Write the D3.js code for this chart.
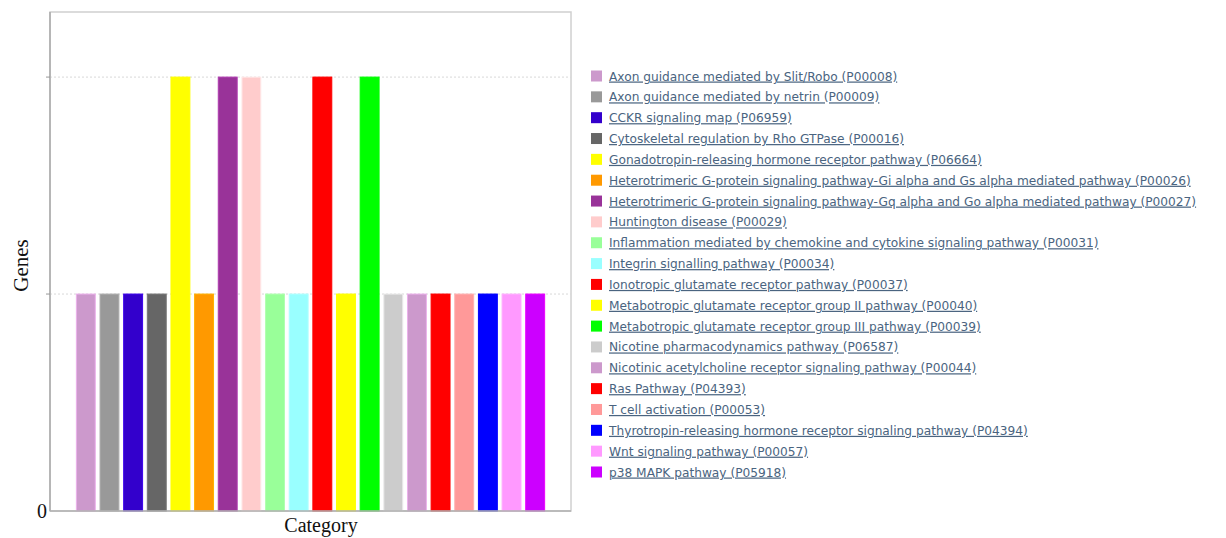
<!DOCTYPE html>
<html>
<head>
<meta charset="utf-8">
<script src="https://cdn.jsdelivr.net/npm/d3@7"></script>
<style>
  body { margin: 0; background: #fff; }
  svg { display: block; }
</style>
</head>
<body>
<div id="chart"></div>
<script>
// pathway categories, gene counts and bar colours
var categories = [
  "Axon guidance mediated by Slit/Robo (P00008)",
  "Axon guidance mediated by netrin (P00009)",
  "CCKR signaling map (P06959)",
  "Cytoskeletal regulation by Rho GTPase (P00016)",
  "Gonadotropin-releasing hormone receptor pathway (P06664)",
  "Heterotrimeric G-protein signaling pathway-Gi alpha and Gs alpha mediated pathway (P00026)",
  "Heterotrimeric G-protein signaling pathway-Gq alpha and Go alpha mediated pathway (P00027)",
  "Huntington disease (P00029)",
  "Inflammation mediated by chemokine and cytokine signaling pathway (P00031)",
  "Integrin signalling pathway (P00034)",
  "Ionotropic glutamate receptor pathway (P00037)",
  "Metabotropic glutamate receptor group II pathway (P00040)",
  "Metabotropic glutamate receptor group III pathway (P00039)",
  "Nicotine pharmacodynamics pathway (P06587)",
  "Nicotinic acetylcholine receptor signaling pathway (P00044)",
  "Ras Pathway (P04393)",
  "T cell activation (P00053)",
  "Thyrotropin-releasing hormone receptor signaling pathway (P04394)",
  "Wnt signaling pathway (P00057)",
  "p38 MAPK pathway (P05918)"
];
var genes = [1, 1, 1, 1, 2, 1, 2, 2, 1, 1, 2, 1, 2, 1, 1, 1, 1, 1, 1, 1];
var colors = [
  "#cc99cc", "#999999", "#3300cc", "#666666", "#ffff00",
  "#ff9900", "#993399", "#ffcccc", "#99ff99", "#99ffff",
  "#ff0000", "#ffff00", "#00ff00", "#cccccc", "#cc99cc",
  "#ff0000", "#ff9999", "#0000ff", "#ff99ff", "#cc00ff"
];
var gridValues = [1, 2];

var width = 1226, height = 538;
var plot = { left: 50, right: 571, top: 12, bottom: 511 };

var svg = d3.select("#chart").append("svg")
  .attr("width", width)
  .attr("height", height);

var x = d3.scaleBand()
  .domain(d3.range(categories.length))
  .range([plot.left + 24, plot.right - 24])
  .paddingInner(0.2)
  .paddingOuter(0.1);

var y = d3.scaleLinear()
  .domain([0, 2.3])
  .range([plot.bottom, plot.top]);

// plot frame
svg.append("rect")
  .attr("x", plot.left)
  .attr("y", plot.top)
  .attr("width", plot.right - plot.left)
  .attr("height", plot.bottom - plot.top)
  .attr("fill", "none")
  .attr("stroke", "#d0d0d0")
  .attr("stroke-width", 1.5);

// dotted grid
svg.selectAll(".grid")
  .data(gridValues).enter()
  .append("line")
  .attr("class", "grid")
  .attr("x1", plot.left)
  .attr("x2", plot.right)
  .attr("y1", d => y(d))
  .attr("y2", d => y(d))
  .attr("stroke", "#d8d8d8")
  .attr("stroke-dasharray", "2,2");

// bars
svg.append("g")
  .selectAll("rect")
  .data(genes).enter()
  .append("rect")
  .attr("x", (d, i) => x(i))
  .attr("y", d => y(d))
  .attr("width", x.bandwidth())
  .attr("height", d => y(0) - y(d))
  .attr("fill", (d, i) => colors[i])
  .attr("stroke", (d, i) => d3.color(colors[i]).brighter(0.4))
  .attr("stroke-width", 1);

// y axis line and ticks
svg.append("line")
  .attr("x1", plot.left).attr("x2", plot.left)
  .attr("y1", plot.top).attr("y2", plot.bottom)
  .attr("stroke", "#aaaaaa")
  .attr("stroke-width", 1.5);
svg.append("line")
  .attr("x1", plot.left).attr("x2", plot.right)
  .attr("y1", plot.bottom).attr("y2", plot.bottom)
  .attr("stroke", "#b0b0b0")
  .attr("stroke-width", 1.5);
svg.selectAll(".ytick")
  .data(gridValues).enter()
  .append("line")
  .attr("x1", plot.left - 4).attr("x2", plot.left)
  .attr("y1", d => y(d)).attr("y2", d => y(d))
  .attr("stroke", "#999");

svg.append("text")
  .attr("x", plot.left - 3)
  .attr("y", y(0) + 7)
  .attr("text-anchor", "end")
  .attr("font-family", "Liberation Serif, Times New Roman, serif")
  .attr("font-size", 20)
  .attr("fill", "#111")
  .text("0");

svg.append("text")
  .attr("transform", `translate(28, ${(plot.top + plot.bottom) / 2 + 4}) rotate(-90)`)
  .attr("text-anchor", "middle")
  .attr("font-family", "Liberation Serif, Times New Roman, serif")
  .attr("font-size", 21)
  .attr("fill", "#111")
  .text("Genes");

svg.append("text")
  .attr("x", 321)
  .attr("y", 532)
  .attr("text-anchor", "middle")
  .attr("font-family", "Liberation Serif, Times New Roman, serif")
  .attr("font-size", 20)
  .attr("fill", "#111")
  .text("Category");

// legend
var legendY = d3.scalePoint()
  .domain(d3.range(categories.length))
  .range([76, 472]);

var legend = svg.append("g")
  .selectAll("g")
  .data(categories).enter()
  .append("g")
  .attr("transform", (d, i) => `translate(591, ${legendY(i)})`);

legend.append("rect")
  .attr("x", 0)
  .attr("y", -5.5)
  .attr("width", 11)
  .attr("height", 11)
  .attr("fill", (d, i) => colors[i]);

legend.append("text")
  .attr("x", 18)
  .attr("y", 4.5)
  .attr("font-family", "DejaVu Sans, Verdana, sans-serif")
  .attr("font-size", 12.2)
  .attr("fill", "#4a6480")
  .attr("text-decoration", "underline")
  .text(d => d);
</script>
</body>
</html>
